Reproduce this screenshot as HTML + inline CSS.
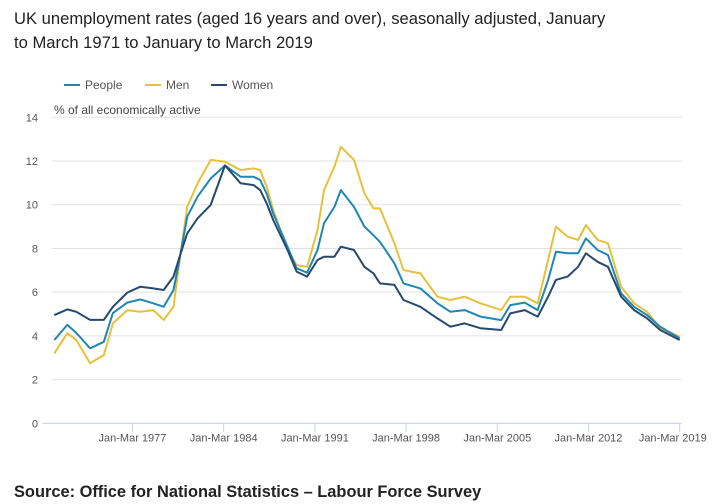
<!DOCTYPE html>
<html><head><meta charset="utf-8"><style>
body{margin:0;background:#fff;font-family:"Liberation Sans",sans-serif;}
svg{display:block}
</style></head><body>
<svg id="chart" width="712" height="504" font-family="Liberation Sans, sans-serif">
<text x="14" y="24" font-size="16.6" fill="#222">UK unemployment rates (aged 16 years and over), seasonally adjusted, January</text>
<text x="14" y="48" font-size="16.6" fill="#222">to March 1971 to January to March 2019</text>
<g>
<g><line x1="64" y1="85" x2="80" y2="85" stroke="#1f86b5" stroke-width="2"/><text x="85" y="89" font-size="12" fill="#555">People</text></g>
<g><line x1="145" y1="85" x2="161" y2="85" stroke="#e8c03a" stroke-width="2"/><text x="166" y="89" font-size="12" fill="#555">Men</text></g>
<g><line x1="211" y1="85" x2="227" y2="85" stroke="#27496d" stroke-width="2"/><text x="232" y="89" font-size="12" fill="#555">Women</text></g>
</g>
<text x="54" y="114" font-size="12" fill="#444">% of all economically active</text>
<g id="grid"></g><g id="axes"></g><g id="series"></g>
<text x="14" y="497" font-size="16.4" font-weight="bold" fill="#222">Source: Office for National Statistics – Labour Force Survey</text>
</svg>
<script>
const dates=[1971.0,1972.0,1972.7,1973.75,1974.8,1975.5,1976.6,1977.6,1978.6,1979.4,1980.15,1980.7,1981.2,1982,1983,1984.1,1985.3,1986.3,1986.8,1987.3,1987.8,1988.9,1989.6,1990.4,1991.2,1991.7,1992.5,1993,1994,1994.8,1995.5,1996,1997.1,1997.8,1999.1,2000.4,2001.4,2002.5,2003.7,2005.3,2006,2007.1,2008.1,2008.9,2009.5,2010.4,2011.2,2011.8,2012.7,2013.5,2014.5,2015.5,2016.5,2017.5,2019];
const people=[3.81,4.5,4.13,3.43,3.73,5.04,5.52,5.67,5.49,5.33,6.1,7.8,9.45,10.37,11.2,11.8,11.28,11.28,11.13,10.5,9.6,8.08,7.09,6.89,7.93,9.15,9.9,10.67,9.9,9.0,8.6,8.3,7.32,6.4,6.17,5.49,5.1,5.18,4.88,4.72,5.41,5.52,5.18,6.55,7.85,7.78,7.78,8.46,7.93,7.7,5.95,5.33,4.95,4.42,3.89];
const men=[3.2,4.12,3.8,2.75,3.12,4.57,5.18,5.1,5.18,4.73,5.33,7.8,9.9,10.98,12.05,11.97,11.59,11.66,11.59,10.82,9.76,7.93,7.24,7.16,8.84,10.67,11.74,12.65,12.05,10.52,9.83,9.83,8.23,7.01,6.86,5.79,5.64,5.79,5.49,5.18,5.79,5.79,5.49,7.47,9.0,8.54,8.39,9.07,8.39,8.23,6.25,5.49,5.1,4.35,3.96];
const women=[4.95,5.21,5.1,4.73,4.73,5.33,5.98,6.25,6.17,6.1,6.71,7.78,8.69,9.38,9.99,11.8,10.98,10.9,10.67,10.06,9.3,7.93,6.94,6.71,7.47,7.62,7.62,8.08,7.93,7.16,6.86,6.4,6.33,5.64,5.33,4.8,4.42,4.57,4.35,4.27,5.03,5.18,4.88,5.79,6.56,6.71,7.16,7.78,7.39,7.16,5.79,5.18,4.8,4.27,3.81];
const yTicks=[0,2,4,6,8,10,12,14];
const xTickYears=[1977,1984,1991,1998,2005,2012,2019];
const xTickLabels=["Jan-Mar 1977","Jan-Mar 1984","Jan-Mar 1991","Jan-Mar 1998","Jan-Mar 2005","Jan-Mar 2012","Jan-Mar 2019"];
const X0=54.3,X1=679.7,Y0=423.3,Y1=117.3,D0=1971,D1=2019,V1=14;
function xs(d){return X0+(d-D0)/(D1-D0)*(X1-X0);}
function ys(v){return Y0-v/V1*(Y0-Y1);}
const NS="http://www.w3.org/2000/svg";
function mk(t,a,p){const e=document.createElementNS(NS,t);for(const k in a)e.setAttribute(k,a[k]);p.appendChild(e);return e;}
const grid=document.getElementById('grid'),axes=document.getElementById('axes'),ser=document.getElementById('series');
yTicks.forEach(v=>{
  if(v>0){const l=mk('line',{x1:X0-2,x2:X1+2,y1:ys(v),y2:ys(v),stroke:'#e2e2e2','stroke-width':1},grid);
  
  }
  const t=mk('text',{x:38,y:ys(v)+4,'font-size':11,fill:'#555','text-anchor':'end'},axes);t.textContent=v;
  
  
});
const ax=mk('line',{x1:X0-12,x2:X1+2,y1:Y0,y2:Y0,stroke:'#c9d3e0','stroke-width':1.2},axes);


xTickYears.forEach((d,i)=>{
  const tk=mk('line',{x1:xs(d),x2:xs(d),y1:Y0,y2:Y0+9,stroke:'#c9d3e0','stroke-width':1},axes);
  
  
  const last=i===xTickYears.length-1;
  const t=mk('text',{x:last?xs(d)+27:xs(d),y:Y0+18,'font-size':11,fill:'#555','text-anchor':last?'end':'middle'},axes);t.textContent=xTickLabels[i];
  
  
});
function line(vals,color,name){
  const p=vals.map((v,i)=>(i?'L':'M')+xs(dates[i]).toFixed(1)+','+ys(v).toFixed(1)).join(' ');
  const e=mk('path',{d:p,fill:'none',stroke:color,'stroke-width':2,'stroke-linejoin':'round'},ser);
  
  
}
line(men,'#e8c03a','men-line');
line(people,'#1f86b5','people-line');
line(women,'#27496d','women-line');
</script>
</body></html>
